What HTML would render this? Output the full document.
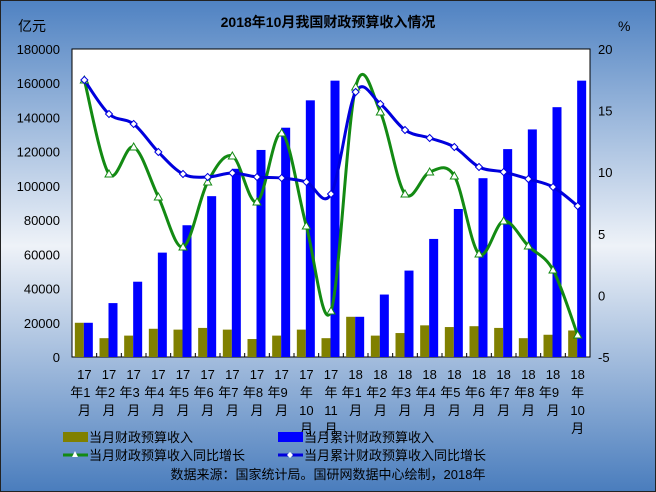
<!DOCTYPE html>
<html><head><meta charset="utf-8"><style>
body{margin:0;width:656px;height:492px;overflow:hidden}
svg{display:block;font-family:"Liberation Sans","Noto Sans CJK SC",sans-serif}
</style></head><body>
<svg id="s" width="656" height="492" xmlns="http://www.w3.org/2000/svg">
<defs><linearGradient id="bg" x1="0" y1="0" x2="0" y2="1">
<stop offset="0" stop-color="#4f82c2"/><stop offset="0.5" stop-color="#eef2f8"/><stop offset="1" stop-color="#4a7dbd"/></linearGradient></defs>
<rect x="0.5" y="0.5" width="655" height="491" fill="url(#bg)" stroke="#222"/>
<rect x="72" y="49" width="518" height="308" fill="#fff" stroke="#000"/>
<text x="328" y="27" font-size="14" font-weight="bold" text-anchor="middle">2018年10月我国财政预算收入情况</text>
<text x="18" y="31" font-size="14">亿元</text>
<text x="618" y="31" font-size="14">%</text>
<g id="g"></g>
</svg>
<script>
var g=document.getElementById('g'),h='';
var X0=72,W=518,n=21,sw=W/n;
function yl(v){return 357-v*308/180000}
function yr(v){return 357-(v+5)*308/25}
for(var i=0;i<=9;i++){var v=i*20000;h+='<text x="60" y="'+(yl(v)+5)+'" font-size="13" text-anchor="end">'+v+'</text>';}
for(var v=-5;v<=20;v+=5){h+='<text x="598" y="'+(yr(v)+5)+'" font-size="13">'+v+'</text>';}
var m=[20000,11000,12500,16500,16000,17000,16000,10500,12500,16000,11000,23500,12500,14000,18500,17500,18000,17000,11000,13000,15500];
var c=[20000,31500,44000,61000,77000,94000,110000,121000,134000,150000,161500,23500,36500,50500,69000,86500,104500,121500,133000,146000,161500];
var gy=[80,174,147,197,247,182,156,202,133,226,311,87,112,194,172,176,254,221,246,270,335];
var by=[80,114,124,152,174,177,173,177,178,182,194,92,104,130,138,147,167,172,179,187,206];
var lab=['1','2','3','4','5','6','7','8','9','10','11','1','2','3','4','5','6','7','8','9','10'];
for(var i=0;i<n;i++){var cx=X0+sw*(i+.5);
h+='<rect x="'+(cx-9.5)+'" y="'+yl(m[i])+'" width="9" height="'+(357-yl(m[i]))+'" fill="#808000"/>';
h+='<rect x="'+(cx-0.5)+'" y="'+yl(c[i])+'" width="9" height="'+(357-yl(c[i]))+'" fill="#0000ff"/>';
h+='<line x1="'+(X0+sw*i)+'" y1="357" x2="'+(X0+sw*i)+'" y2="353" stroke="#000"/>';
var yr_=i<11?'17':'18';
h+='<text x="'+cx+'" y="379" font-size="13" text-anchor="middle">'+yr_+'</text>';
if(lab[i].length==1){h+='<text x="'+(cx-4)+'" y="397" font-size="13" text-anchor="middle">年'+lab[i]+'</text><text x="'+cx+'" y="415" font-size="13" text-anchor="middle">月</text>';}
else{h+='<text x="'+cx+'" y="397" font-size="13" text-anchor="middle">年</text><text x="'+cx+'" y="415" font-size="13" text-anchor="middle">'+lab[i]+'</text><text x="'+cx+'" y="433" font-size="13" text-anchor="middle">月</text>';}
}
function path(ys){var p=ys.map(function(y,i){return[X0+sw*(i+.5),y]});var d='M'+p[0];
for(var i=0;i<p.length-1;i++){var a=p[i-1]||p[i],b=p[i],cc=p[i+1],e=p[i+2]||cc;
d+=' C'+(b[0]+(cc[0]-a[0])/6)+','+(b[1]+(cc[1]-a[1])/6)+' '+(cc[0]-(e[0]-b[0])/6)+','+(cc[1]-(e[1]-b[1])/6)+' '+cc[0]+','+cc[1];}return d;}
h+='<path d="'+path(gy)+'" fill="none" stroke="#138a13" stroke-width="3"/>';
h+='<path d="'+path(by)+'" fill="none" stroke="#0000dd" stroke-width="3"/>';
for(var i=0;i<n;i++){var cx=X0+sw*(i+.5);
h+='<polygon points="'+cx+','+(gy[i]-4)+' '+(cx-4)+','+(gy[i]+3)+' '+(cx+4)+','+(gy[i]+3)+'" fill="#fff" stroke="#138a13"/>';
h+='<polygon points="'+cx+','+(by[i]-3.5)+' '+(cx+3.5)+','+by[i]+' '+cx+','+(by[i]+3.5)+' '+(cx-3.5)+','+by[i]+'" fill="#fff" stroke="#0000dd"/>';}
h+='<rect x="63" y="432" width="25" height="10" fill="#808000"/><text x="89" y="442" font-size="13">当月财政预算收入</text>';
h+='<rect x="278" y="432" width="25" height="10" fill="#0000ff"/><text x="304" y="442" font-size="13">当月累计财政预算收入</text>';
h+='<line x1="63" y1="455" x2="88" y2="455" stroke="#138a13" stroke-width="3"/><polygon points="75,451 72,457 78,457" fill="#fff"/><text x="89" y="460" font-size="13">当月财政预算收入同比增长</text>';
h+='<line x1="278" y1="455" x2="303" y2="455" stroke="#0000dd" stroke-width="3"/><polygon points="290,452 293,455 290,458 287,455" fill="#fff"/><text x="304" y="460" font-size="13">当月累计财政预算收入同比增长</text>';
h+='<text x="328" y="479" font-size="13" text-anchor="middle">数据来源：国家统计局。国研网数据中心绘制，2018年</text>';
g.innerHTML=h;
</script>
</body></html>
